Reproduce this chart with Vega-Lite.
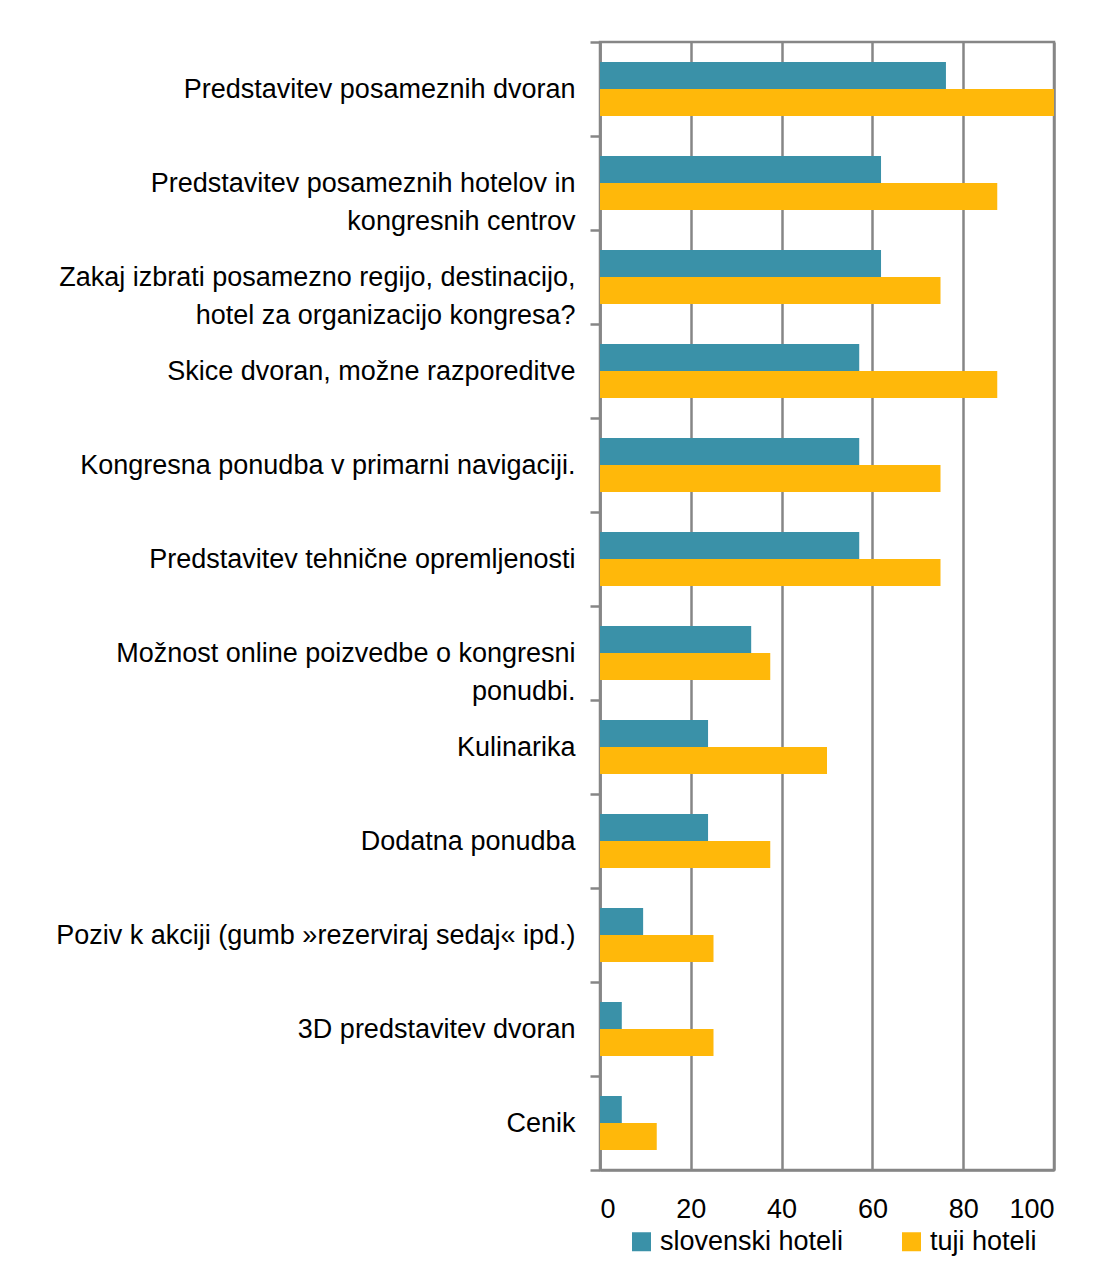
{
  "$schema": "https://vega.github.io/schema/vega-lite/v6.json",
  "width": 454,
  "height": 1128,
  "autosize": "none",
  "padding": {"left": 600, "top": 42, "right": 47, "bottom": 104},
  "background": "white",
  "config": {
    "view": {"stroke": "#868686", "strokeWidth": 2.5},
    "font": "Liberation Sans"
  },
  "data": {
    "values": [
      {"item": "Predstavitev posameznih dvoran", "group": "slovenski hoteli", "value": 76.2},
      {"item": "Predstavitev posameznih dvoran", "group": "tuji hoteli", "value": 100},
      {"item": "Predstavitev posameznih hotelov in|kongresnih centrov", "group": "slovenski hoteli", "value": 61.9},
      {"item": "Predstavitev posameznih hotelov in|kongresnih centrov", "group": "tuji hoteli", "value": 87.5},
      {"item": "Zakaj izbrati posamezno regijo, destinacijo,|hotel za organizacijo kongresa?", "group": "slovenski hoteli", "value": 61.9},
      {"item": "Zakaj izbrati posamezno regijo, destinacijo,|hotel za organizacijo kongresa?", "group": "tuji hoteli", "value": 75},
      {"item": "Skice dvoran, možne razporeditve", "group": "slovenski hoteli", "value": 57.1},
      {"item": "Skice dvoran, možne razporeditve", "group": "tuji hoteli", "value": 87.5},
      {"item": "Kongresna ponudba v primarni navigaciji.", "group": "slovenski hoteli", "value": 57.1},
      {"item": "Kongresna ponudba v primarni navigaciji.", "group": "tuji hoteli", "value": 75},
      {"item": "Predstavitev tehnične opremljenosti", "group": "slovenski hoteli", "value": 57.1},
      {"item": "Predstavitev tehnične opremljenosti", "group": "tuji hoteli", "value": 75},
      {"item": "Možnost online poizvedbe o kongresni|ponudbi.", "group": "slovenski hoteli", "value": 33.3},
      {"item": "Možnost online poizvedbe o kongresni|ponudbi.", "group": "tuji hoteli", "value": 37.5},
      {"item": "Kulinarika", "group": "slovenski hoteli", "value": 23.8},
      {"item": "Kulinarika", "group": "tuji hoteli", "value": 50},
      {"item": "Dodatna ponudba", "group": "slovenski hoteli", "value": 23.8},
      {"item": "Dodatna ponudba", "group": "tuji hoteli", "value": 37.5},
      {"item": "Poziv k akciji (gumb »rezerviraj sedaj« ipd.)", "group": "slovenski hoteli", "value": 9.5},
      {"item": "Poziv k akciji (gumb »rezerviraj sedaj« ipd.)", "group": "tuji hoteli", "value": 25},
      {"item": "3D predstavitev dvoran", "group": "slovenski hoteli", "value": 4.8},
      {"item": "3D predstavitev dvoran", "group": "tuji hoteli", "value": 25},
      {"item": "Cenik", "group": "slovenski hoteli", "value": 4.8},
      {"item": "Cenik", "group": "tuji hoteli", "value": 12.5}
    ]
  },
  "mark": {"type": "bar"},
  "encoding": {
    "y": {
      "field": "item",
      "type": "nominal",
      "sort": null,
      "scale": {"paddingInner": 0, "paddingOuter": 0},
      "axis": {
        "title": null,
        "labelExpr": "length(split(datum.label, '|')) > 1 ? [split(datum.label, '|')[0], pad(split(datum.label, '|')[1], length(split(datum.label, '|')[1]) + (indexof(datum.label, 'hotelov') >= 0 ? 12 : indexof(datum.label, 'Zakaj') >= 0 ? 9 : 23), '\u00a0')] : datum.label",
        "labelLimit": 0,
        "labelFontSize": 27,
        "labelColor": "black",
        "labelLineHeight": 38,
        "labelPadding": 15,
        "tickBand": "extent",
        "tickSize": 10,
        "tickColor": "#868686",
        "tickWidth": 2.5,
        "domainColor": "#868686",
        "domainWidth": 2.5,
        "grid": false
      }
    },
    "yOffset": {
      "field": "group",
      "sort": ["slovenski hoteli", "tuji hoteli"],
      "scale": {"paddingInner": 0, "paddingOuter": 0.74}
    },
    "x": {
      "field": "value",
      "type": "quantitative",
      "scale": {"domain": [0, 100]},
      "axis": {
        "title": null,
        "values": [0, 20, 40, 60, 80, 100],
        "labelFontSize": 27,
        "labelColor": "black",
        "labelPadding": 26,
        "ticks": false,
        "grid": true,
        "gridColor": "#868686",
        "gridWidth": 2.5,
        "domainColor": "#868686",
        "domainWidth": 2.5
      }
    },
    "color": {
      "field": "group",
      "type": "nominal",
      "scale": {"domain": ["slovenski hoteli", "tuji hoteli"], "range": ["#3A91A8", "#FFB80A"]},
      "legend": {
        "title": null,
        "orient": "none",
        "legendX": 28,
        "legendY": 1186,
        "direction": "horizontal",
        "symbolType": "square",
        "symbolSize": 361,
        "symbolStrokeWidth": 0,
        "labelFontSize": 27,
        "labelLimit": 0,
        "labelColor": "black",
        "labelOffset": 5,
        "columnPadding": 54
      }
    }
  }
}
